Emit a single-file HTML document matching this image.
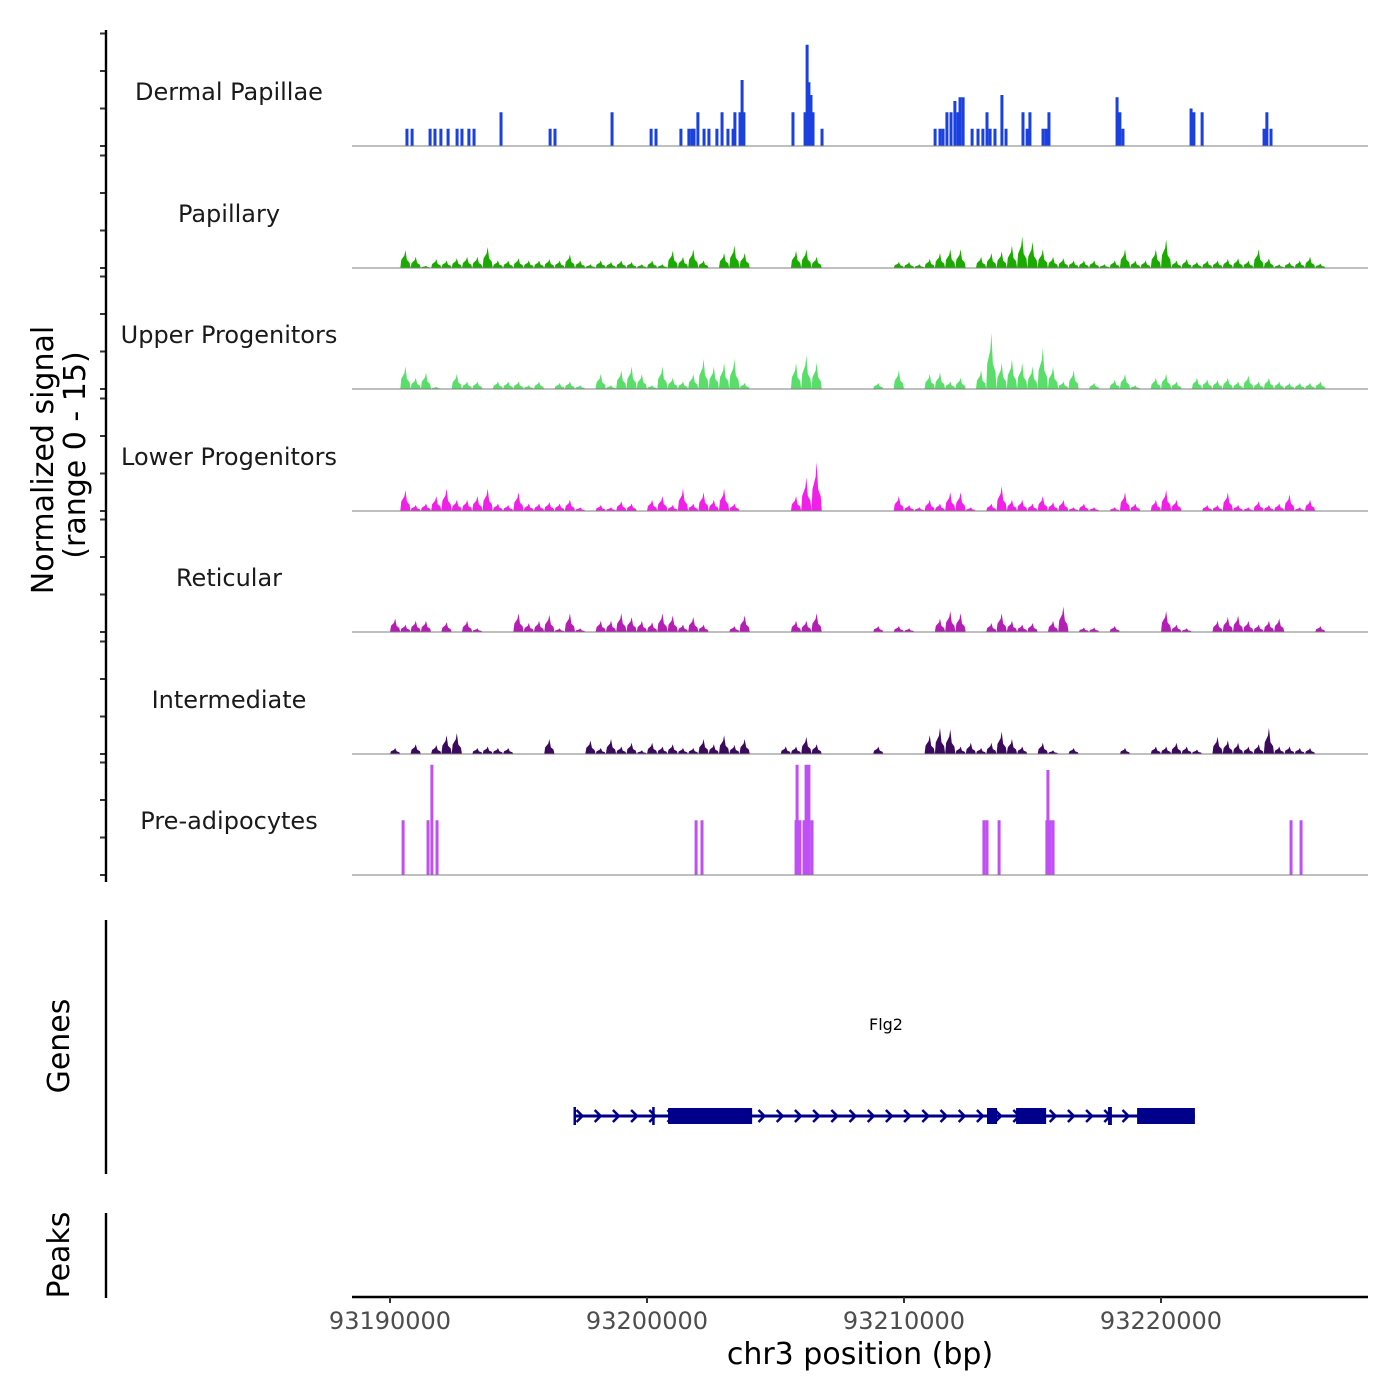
<!DOCTYPE html>
<html><head><meta charset="utf-8"><style>
html,body{margin:0;padding:0;background:#fff;}
svg{display:block;font-family:"DejaVu Sans","Liberation Sans",sans-serif;}
</style></head><body>
<svg id="chart" width="1400" height="1400" viewBox="0 0 1400 1400">
<g id="tracks"></g>
<g id="axes"></g>
<g id="genes"></g>
</svg>
<script>
// ---- data ----
const trackNames = ["Dermal Papillae","Papillary","Upper Progenitors","Lower Progenitors","Reticular","Intermediate","Pre-adipocytes"];
const trackColors = ["#1a40e0","#1aaa00","#5ade6a","#f020e8","#b41eb4","#3c0a5c","#c050f5"];
const xTicks = [93190000,93200000,93210000,93220000];
const binStart = 93190000;
const binSize = 400;
// sparse tracks: offsets in kb from 93190000, heights in normalized units
const dermalKb = [0.66,0.86,1.56,1.75,1.98,2.26,2.61,2.80,3.07,3.27,4.32,6.23,6.42,8.64,10.16,10.35,11.32,11.63,11.75,11.83,11.98,12.22,12.41,12.72,12.92,13.15,13.35,13.42,13.62,13.70,13.77,15.68,16.15,16.23,16.30,16.38,16.46,16.81,21.21,21.40,21.52,21.67,21.83,21.98,22.10,22.18,22.30,22.65,22.88,23.07,23.23,23.35,23.54,23.81,23.97,24.63,24.79,24.90,25.41,25.53,25.64,28.29,28.40,28.52,31.17,31.28,31.60,34.01,34.12,34.28];
const dermalH = [2.3,2.3,2.3,2.3,2.3,2.3,2.3,2.3,2.3,2.3,4.5,2.3,2.3,4.5,2.3,2.3,2.3,2.3,2.3,2.3,4.5,2.3,2.3,2.3,4.5,2.3,2.3,4.5,4.5,8.8,4.5,4.5,4.5,13.5,8.5,6.8,4.5,2.3,2.3,2.3,2.3,4.5,4.5,6.0,4.5,6.5,6.5,2.3,2.3,2.3,4.5,2.3,2.3,6.8,2.3,4.5,2.3,4.5,2.3,2.3,4.5,6.5,4.5,2.3,5.0,4.5,4.5,2.3,4.5,2.3];
const preadipoKb = [0.51,1.48,1.63,1.83,11.91,12.14,15.80,15.84,15.95,16.11,16.19,16.26,16.30,16.42,23.11,23.23,23.70,25.56,25.60,25.68,25.80,35.06,35.45];
const preadipoH = [7.3,7.3,14.7,7.3,7.3,7.3,7.3,14.7,7.3,7.3,14.7,7.3,14.7,7.3,7.3,7.3,7.3,7.3,14.0,7.3,7.3,7.3,7.3];
// binned tracks (400 bp bins from 93190000)
const papillary = [0,2.4,1.5,0.3,1.2,1,1.3,1.5,1.5,2.8, 1,1,1.3,1,1,1.2,1,1.8,1,0.5, 1,0.8,1,0.8,0.5,1,0.5,2.3,1.5,2.5, 1,0,2,3,2,0,0,0,0,2.3, 2.5,1.5,0,0,0,0,0,0,0,0.8, 0.8,0.5,1.2,2,2.5,2.5,0,1.5,2,2.2, 3,4.2,3.5,2.5,1.5,1.3,1,1,1,0.5, 1,2.5,1,1,2.5,3.8,1,1.2,0.8,1, 1,1.2,1.3,1,2.5,1.3,0.5,0.8,1,1.5,0.6,0];
const upperProg = [0,3,1.5,2.2,0.3,0,2,1,1,0, 1,1,1,0.5,1,0,0.8,1,0.5,0, 2,0.5,2.5,3,2,0.5,3,1.5,1,2, 4,3,3.5,4,0.8,0,0,0,0,3.5, 4.5,3.5,0,0,0,0,0,0.8,0,2.5, 0,0,2,2.2,1,1.5,0,2.5,7.5,3.5, 4,3.5,3,5.5,3,1,2.5,0,0.8,0, 1.2,2,0.5,0,1.5,2,1,0,1.5,1.3, 1.2,1.5,1,1.8,1,1.5,1,0.8,0.8,0.8,1,0];
const lowerProg = [0,2.8,0.8,1,2,3,1.5,1.5,2,3, 1,0.8,2.5,1,1,1.2,1,1.5,0.5,0, 0.8,0.5,1.3,1,0,1.5,2,0.8,3,1, 2.5,1.5,3,1,0,0,0,0,0,2, 4.5,6.5,0,0,0,0,0,0,0,2, 0.8,0.5,1.5,1,2.5,2.5,0.5,0,1,3.3, 1.5,1.5,1,2,1.2,1.5,0.5,1,0.5,0, 0.5,2.5,1,0,1.5,2.8,1.5,0,0,0.8, 0.8,2.5,0.8,0.5,1.3,0.8,1,2.2,0.5,1.5,0,0];
const reticular = [1.8,1,1.5,1.5,0,1.3,0,1.5,0.5,0, 0,0,2.5,1.2,1.5,2.3,0.5,2.5,0.5,0, 1.5,1.5,2.5,2,1.5,1.3,2.5,2.2,1,2, 1,0,0,0.8,2.2,0,0,0,0,1.5, 1.5,2.5,0,0,0,0,0,0.8,0,0.8, 0.5,0,0,1.8,2.8,2.5,0,0,1.2,2.5, 1.5,1,1.2,0,1.5,3.4,0,0.6,0.6,0, 0.8,0,0,0,0,2.8,1,0.5,0,0, 1.5,2,2.2,1.5,1,1.5,1.8,0,0,0,0.8,0];
const intermediate = [0.8,0,1.3,0,1.2,2.5,2.8,0,0.8,1, 0.8,0.8,0,0,0,2,0,0,0,1.8, 0.8,2,1,1.5,0.5,1.5,1,1.3,0.8,0.8, 2,1.3,2.5,1.2,2,0,0,0,1,1, 2.3,1.3,0,0,0,0,0,1,0,0, 0,0,2.5,3.5,3.3,1,1.5,0.8,1.5,3, 2,1,0,1.5,0.5,0,0.8,0,0,0, 0,0.8,0,0,1,1,1.5,1,0.6,0, 2.3,1.8,1.5,1,1.3,3.5,1,1,0.8,0.8,0,0];
// gene model (kb offsets)
const geneStartKb = 7.14, geneEndKb = 31.32;
const exonStartKb = [7.14,10.2,10.82,23.23,24.36,27.94,29.07];
const exonEndKb   = [7.22,10.3,14.09,23.62,25.53,28.09,31.32];
const exonTall    = [0,0,1,1,1,0,1];

// ---- scales ----
const X0 = 390, PXKB = 25.7;
function xScale(bp){ return X0 + (bp - 93190000) / 1000 * PXKB; }
function xKb(kb){ return X0 + kb * PXKB; }
const baselines = [146,268,389,511,632,754,875];
const UNIT = 7.5;
function yScale(t, v){ return baselines[t] - v * UNIT; }

const NS = "http://www.w3.org/2000/svg";
function mk(tag, attrs, parent){ const e = document.createElementNS(NS, tag); for (const k in attrs) e.setAttribute(k, attrs[k]); parent.appendChild(e); return e; }
const tracksG = document.getElementById('tracks');
const axesG = document.getElementById('axes');
const genesG = document.getElementById('genes');

function drawSpikes(t, kbs, hs){
  for (let i = 0; i < kbs.length; i++){
    const x = xKb(kbs[i]);
    const r = mk('rect', {x: x - 1.5, y: yScale(t, hs[i]), width: 3, height: hs[i] * UNIT, fill: trackColors[t]}, tracksG);
    
    
  }
}
function drawBins(t, vals){
  let d = '';
  const base = baselines[t];
  for (let i = 0; i < vals.length; i++){
    const v = vals[i];
    if (v <= 0) continue;
    const s = xScale(binStart + i * binSize), e = xScale(binStart + (i + 1) * binSize), c = (s + e) / 2;
    const y = yScale(t, v), ym = yScale(t, v * 0.45);
    d += `M${s},${base}L${s+1},${ym}L${c-1},${yScale(t, v*0.7)}L${c},${y}L${c+1.5},${ym}L${e-1},${yScale(t, v*0.3)}L${e},${base}Z`;
  }
  const p = mk('path', {d: d, fill: trackColors[t]}, tracksG);
  
  
}

drawSpikes(0, dermalKb, dermalH);
drawBins(1, papillary);
drawBins(2, upperProg);
drawBins(3, lowerProg);
drawBins(4, reticular);
drawBins(5, intermediate);
drawSpikes(6, preadipoKb, preadipoH);

// baselines, labels, y ticks
for (let t = 0; t < 7; t++){
  const b = baselines[t];
  const l = mk('line', {x1: 352, x2: 1368, y1: b, y2: b, stroke: '#7f7f7f', 'stroke-width': 1}, tracksG);
  
  
  const tx = mk('text', {x: 229, y: b - 46, 'text-anchor': 'middle', 'font-size': 24, fill: '#1a1a1a'}, tracksG);
  tx.textContent = trackNames[t];
  
  
  for (let k = 0; k < 4; k++){
    const y = b - k * 37.5;
    const tk = mk('line', {x1: 100, x2: 106, y1: y, y2: y, stroke: '#333', 'stroke-width': 2}, axesG);
    
    
  }
}
function axLine(x1,y1,x2,y2,name){ const l = mk('line',{x1,y1,x2,y2,stroke:'#000','stroke-width':2.4},axesG);   }
axLine(106,30,106,882,'y-axis-line');
axLine(106,920,106,1174,'genes-axis-line');
axLine(106,1213,106,1298,'peaks-axis-line');
axLine(352,1297,1368,1297,'x-axis-line');
for (let i = 0; i < xTicks.length; i++){
  const x = xScale(xTicks[i]);
  const tk = mk('line', {x1: x, x2: x, y1: 1297, y2: 1303, stroke: '#333', 'stroke-width': 2}, axesG);
  
  
  const lb = mk('text', {x: x, y: 1329, 'text-anchor': 'middle', 'font-size': 24, fill: '#4d4d4d'}, axesG);
  lb.textContent = xTicks[i];
  
  
}
</script>
<svg style="position:absolute;left:0;top:0" width="1400" height="1400">
<text x="860" y="1364" text-anchor="middle" font-size="30" fill="#000" font-family="DejaVu Sans, Liberation Sans, sans-serif">chr3 position (bp)</text>
<text transform="translate(53,460) rotate(-90)" text-anchor="middle" font-size="30" font-family="DejaVu Sans, Liberation Sans, sans-serif">Normalized signal</text>
<text transform="translate(85,455) rotate(-90)" text-anchor="middle" font-size="30" font-family="DejaVu Sans, Liberation Sans, sans-serif">(range 0 - 15)</text>
<text transform="translate(69,1046) rotate(-90)" text-anchor="middle" font-size="30" font-family="DejaVu Sans, Liberation Sans, sans-serif">Genes</text>
<text transform="translate(69,1255) rotate(-90)" text-anchor="middle" font-size="30" font-family="DejaVu Sans, Liberation Sans, sans-serif">Peaks</text>
</svg>
<script>
// gene model drawing
(function(){
  const G = document.getElementById('genes');
  const GY = 1116, col = '#00008b';
  const ln = mk('line', {x1: xKb(geneStartKb), x2: xKb(geneEndKb), y1: GY, y2: GY, stroke: col, 'stroke-width': 3}, G);
  
  
  const step = 18.2;
  let arrows = '';
  for (let x = xKb(geneStartKb) + 6; x < xKb(geneEndKb) - 4; x += step){
    arrows += `M${x-3},${GY-6}L${x+3},${GY}L${x-3},${GY+6}`;
  }
  const ar = mk('path', {d: arrows, stroke: col, 'stroke-width': 2.5, fill: 'none'}, G);
  
  
  for (let i = 0; i < exonStartKb.length; i++){
    const x1 = xKb(exonStartKb[i]), x2 = xKb(exonEndKb[i]);
    const h = exonTall[i] ? 16 : 18;
    const r = mk('rect', {x: x1, y: GY - h/2, width: Math.max(x2 - x1, 2.5), height: h, fill: col}, G);
    
    
  }
  const lbl = mk('text', {x: 886, y: 1030, 'text-anchor': 'middle', 'font-size': 16, fill: '#000'}, G);
  lbl.textContent = 'Flg2';
  
  
})();
</script>
</body></html>
